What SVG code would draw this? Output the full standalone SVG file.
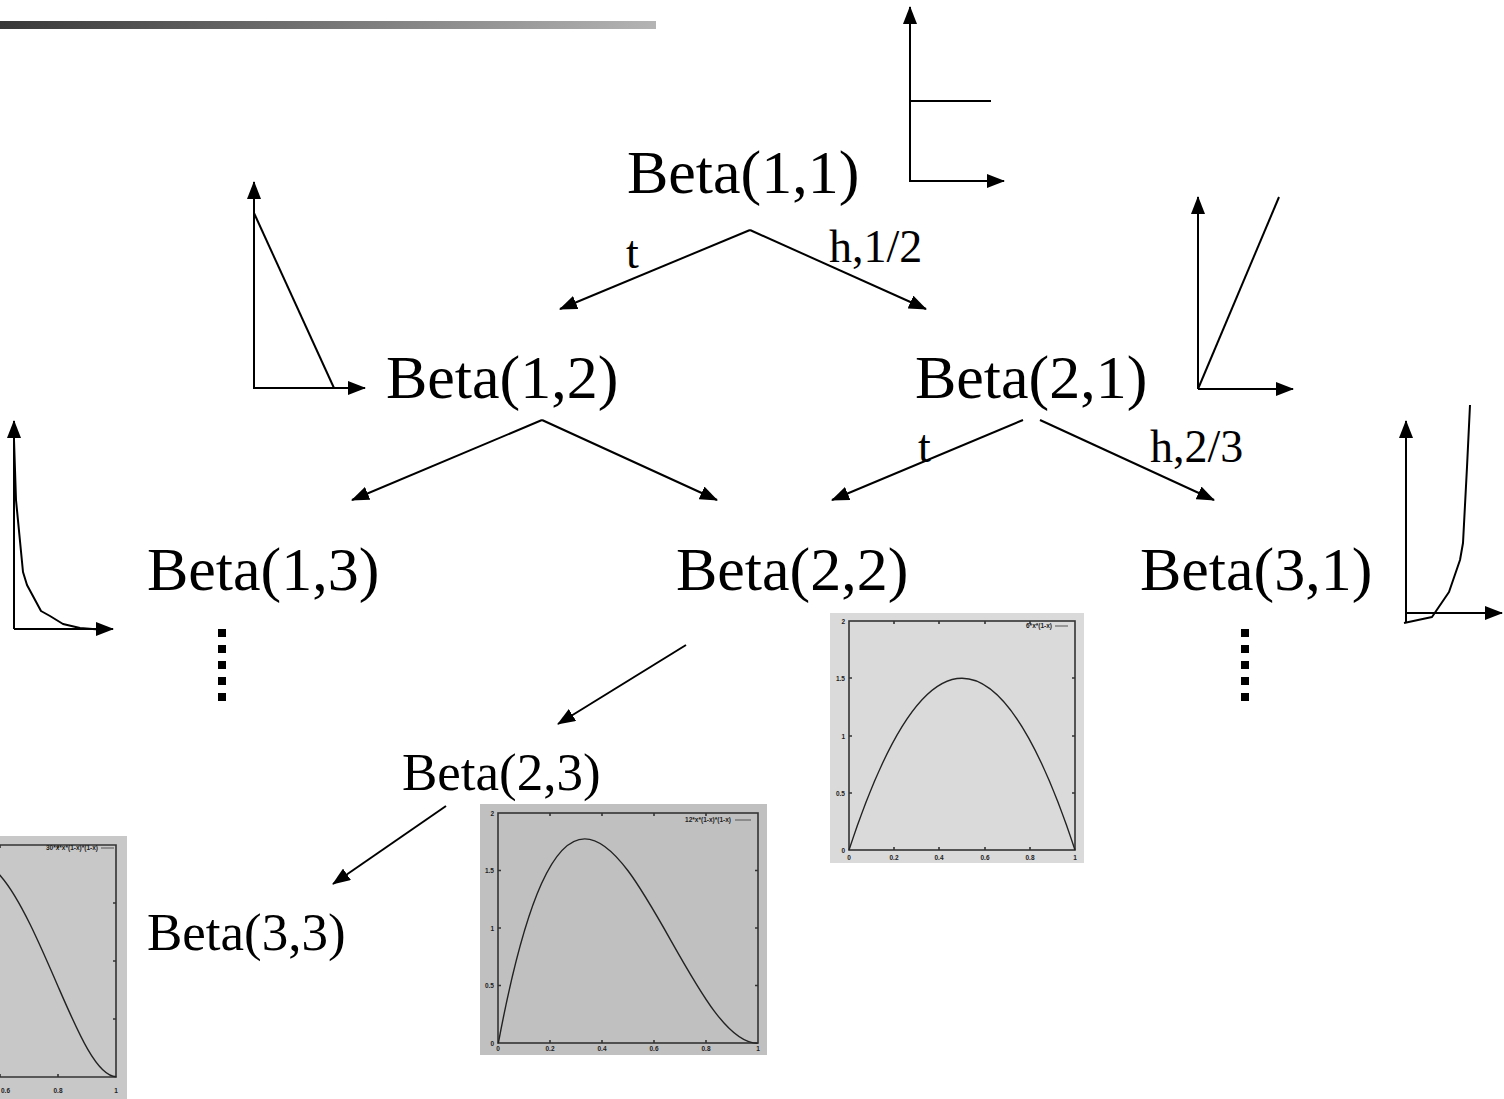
<svg xmlns="http://www.w3.org/2000/svg" width="1504" height="1099" viewBox="0 0 1504 1099">
<defs>
<linearGradient id="bar" x1="0" y1="0" x2="1" y2="0">
<stop offset="0" stop-color="#383838"/>
<stop offset="1" stop-color="#b4b4b4"/>
</linearGradient>
<marker id="ah" viewBox="0 0 18 14" refX="17" refY="7" markerWidth="18" markerHeight="14" orient="auto" markerUnits="userSpaceOnUse">
<path d="M0,0 L18,7 L0,14 z" fill="#000"/>
</marker>
<clipPath id="c33"><rect x="0" y="836" width="127" height="263"/></clipPath>
</defs>
<style>
.n{font-family:"Liberation Serif","Times New Roman",serif;fill:#000}
.big{font-size:62px}
.mid{font-size:53px}
.lbl{font-size:46px}
.c{stroke:#000;stroke-width:2;fill:none;marker-end:url(#ah)}
.ax{stroke:#000;stroke-width:2;fill:none;stroke-linejoin:round}
.fr{stroke:#333;stroke-width:1.6;fill:none}
.cv{stroke:#222;stroke-width:1.4;fill:none}
.tk{font-family:"Liberation Sans",Arial,sans-serif;font-size:6.5px;font-weight:bold;fill:#222}
.dot{fill:#000}
</style>
<rect x="0" y="21" width="656" height="8" fill="url(#bar)"/>

<g id="connectors">
<line class="c" x1="750" y1="230" x2="560" y2="309"/>
<line class="c" x1="750" y1="230" x2="926" y2="309"/>
<line class="c" x1="542" y1="420" x2="352" y2="500"/>
<line class="c" x1="542" y1="420" x2="717" y2="500"/>
<line class="c" x1="1023" y1="420" x2="832" y2="500"/>
<line class="c" x1="1040" y1="420" x2="1214" y2="500"/>
<line class="c" x1="686" y1="645" x2="558" y2="724"/>
<line class="c" x1="446" y1="806" x2="333" y2="884"/>
<text class="n lbl" x="626" y="268">t</text>
<text class="n lbl" x="829" y="262">h,1/2</text>
<text class="n lbl" x="918" y="462">t</text>
<text class="n lbl" x="1150" y="462">h,2/3</text>
</g>

<g id="beta11">
<text class="n big" x="627" y="193">Beta(1,1)</text>
</g>
<g id="beta12">
<text class="n big" x="386" y="398">Beta(1,2)</text>
</g>
<g id="beta21">
<text class="n big" x="915" y="398">Beta(2,1)</text>
</g>
<g id="beta13">
<text class="n big" x="147" y="590">Beta(1,3)</text>
</g>
<g id="beta22">
<text class="n big" x="676" y="590">Beta(2,2)</text>
</g>
<g id="beta31">
<text class="n big" x="1140" y="590">Beta(3,1)</text>
</g>
<g id="beta23">
<text class="n mid" x="402" y="790">Beta(2,3)</text>
</g>
<g id="beta33">
<text class="n mid" x="147" y="950">Beta(3,3)</text>
</g>

<g id="sketch11">
<line class="ax" x1="910" y1="181" x2="1004" y2="181" marker-end="url(#ah)"/>
<line class="ax" x1="910" y1="182" x2="910" y2="7" marker-end="url(#ah)"/>
<line class="ax" x1="910" y1="101" x2="991" y2="101"/>
</g>
<g id="sketch12">
<line class="ax" x1="254" y1="388" x2="365" y2="388" marker-end="url(#ah)"/>
<line class="ax" x1="254" y1="389" x2="254" y2="182" marker-end="url(#ah)"/>
<line class="ax" x1="254" y1="213" x2="334" y2="388"/>
</g>
<g id="sketch21">
<line class="ax" x1="1198" y1="389" x2="1198" y2="197" marker-end="url(#ah)"/>
<line class="ax" x1="1198" y1="389" x2="1293" y2="389" marker-end="url(#ah)"/>
<line class="ax" x1="1198" y1="389" x2="1279" y2="197"/>
</g>
<g id="sketch13">
<line class="ax" x1="14" y1="629" x2="14" y2="421" marker-end="url(#ah)"/>
<line class="ax" x1="14" y1="629" x2="113" y2="629" marker-end="url(#ah)"/>
<polyline class="ax" points="14,440 16,500 23,572 27,585 41,611 50,616 63,624 80,628 105,630"/>
</g>
<g id="sketch31">
<line class="ax" x1="1406" y1="622" x2="1406" y2="421" marker-end="url(#ah)"/>
<line class="ax" x1="1406" y1="613" x2="1502" y2="613" marker-end="url(#ah)"/>
<polyline class="ax" points="1404,623 1432,617 1449,592 1460,560 1463,543 1467,467 1470,405"/>
</g>

<g id="dots-left">
<rect class="dot" x="218" y="629" width="8" height="8"/>
<rect class="dot" x="218" y="645" width="8" height="8"/>
<rect class="dot" x="218" y="661" width="8" height="8"/>
<rect class="dot" x="218" y="677" width="8" height="8"/>
<rect class="dot" x="218" y="693" width="8" height="8"/>
</g>
<g id="dots-right">
<rect class="dot" x="1241" y="629" width="8" height="8"/>
<rect class="dot" x="1241" y="645" width="8" height="8"/>
<rect class="dot" x="1241" y="661" width="8" height="8"/>
<rect class="dot" x="1241" y="677" width="8" height="8"/>
<rect class="dot" x="1241" y="693" width="8" height="8"/>
</g>

<g id="plot22">
<rect x="830" y="613" width="254" height="250" fill="#dadada"/>
<rect class="fr" x="849" y="621" width="226" height="229"/>
<path class="fr" d="M849,678 h3 M849,736 h3 M849,793 h3 M1075,678 h-3 M1075,736 h-3 M1075,793 h-3 M894,850 v-3 M939,850 v-3 M985,850 v-3 M1030,850 v-3 M894,621 v3 M939,621 v3 M985,621 v3 M1030,621 v3"/>
<path class="cv" d="M849,850 Q962,506.5 1075,850"/>
<text class="tk" x="845" y="624" text-anchor="end">2</text>
<text class="tk" x="845" y="681" text-anchor="end">1.5</text>
<text class="tk" x="845" y="739" text-anchor="end">1</text>
<text class="tk" x="845" y="796" text-anchor="end">0.5</text>
<text class="tk" x="845" y="853" text-anchor="end">0</text>
<text class="tk" x="849" y="860" text-anchor="middle">0</text>
<text class="tk" x="894" y="860" text-anchor="middle">0.2</text>
<text class="tk" x="939" y="860" text-anchor="middle">0.4</text>
<text class="tk" x="985" y="860" text-anchor="middle">0.6</text>
<text class="tk" x="1030" y="860" text-anchor="middle">0.8</text>
<text class="tk" x="1075" y="860" text-anchor="middle">1</text>
<text class="tk" x="1052" y="628" text-anchor="end">6*x*(1-x)</text>
<line x1="1055" y1="626" x2="1068" y2="626" stroke="#555" stroke-width="1"/>
</g>

<g id="plot23">
<rect x="480" y="804" width="287" height="251" fill="#c0c0c0"/>
<rect class="fr" x="498" y="813" width="260" height="230"/>
<path class="fr" d="M498,870.5 h3 M498,928 h3 M498,985.5 h3 M758,870.5 h-3 M758,928 h-3 M758,985.5 h-3 M550,1043 v-3 M602,1043 v-3 M654,1043 v-3 M706,1043 v-3 M550,813 v3 M602,813 v3 M654,813 v3 M706,813 v3"/>
<path class="cv" d="M498.3,1043.3 C584.8,583.3 671.2,1043.3 757.7,1043.3"/>
<text class="tk" x="494" y="816" text-anchor="end">2</text>
<text class="tk" x="494" y="873" text-anchor="end">1.5</text>
<text class="tk" x="494" y="931" text-anchor="end">1</text>
<text class="tk" x="494" y="988" text-anchor="end">0.5</text>
<text class="tk" x="494" y="1046" text-anchor="end">0</text>
<text class="tk" x="498" y="1051" text-anchor="middle">0</text>
<text class="tk" x="550" y="1051" text-anchor="middle">0.2</text>
<text class="tk" x="602" y="1051" text-anchor="middle">0.4</text>
<text class="tk" x="654" y="1051" text-anchor="middle">0.6</text>
<text class="tk" x="706" y="1051" text-anchor="middle">0.8</text>
<text class="tk" x="758" y="1051" text-anchor="middle">1</text>
<text class="tk" x="731" y="822" text-anchor="end">12*x*(1-x)*(1-x)</text>
<line x1="735" y1="820" x2="751" y2="820" stroke="#555" stroke-width="1"/>
</g>

<g id="plot33" clip-path="url(#c33)">
<rect x="0" y="836" width="127" height="263" fill="#c8c8c8"/>
<path class="fr" d="M-2,845 H116 V1077 H-2"/>
<path class="fr" d="M116,903 h-3 M116,961 h-3 M116,1019 h-3 M58,1077 v-3 M58,845 v3 M0,1077 v-3 M0,845 v3"/>
<path class="cv" d="M-27.85,859.5 C-18.25,859.5 -8.6,865.4 1,876.5 C20.2,898.8 39.4,943.2 58.6,987.7 C77.9,1032.2 97.1,1076.7 116.3,1076.7"/>
<text class="tk" x="1" y="1093">0.6</text>
<text class="tk" x="58" y="1093" text-anchor="middle">0.8</text>
<text class="tk" x="116" y="1093" text-anchor="middle">1</text>
<text class="tk" x="98" y="850" text-anchor="end">30*x*x*(1-x)*(1-x)</text>
<line x1="101" y1="848" x2="114" y2="848" stroke="#555" stroke-width="1"/>
</g>
</svg>
